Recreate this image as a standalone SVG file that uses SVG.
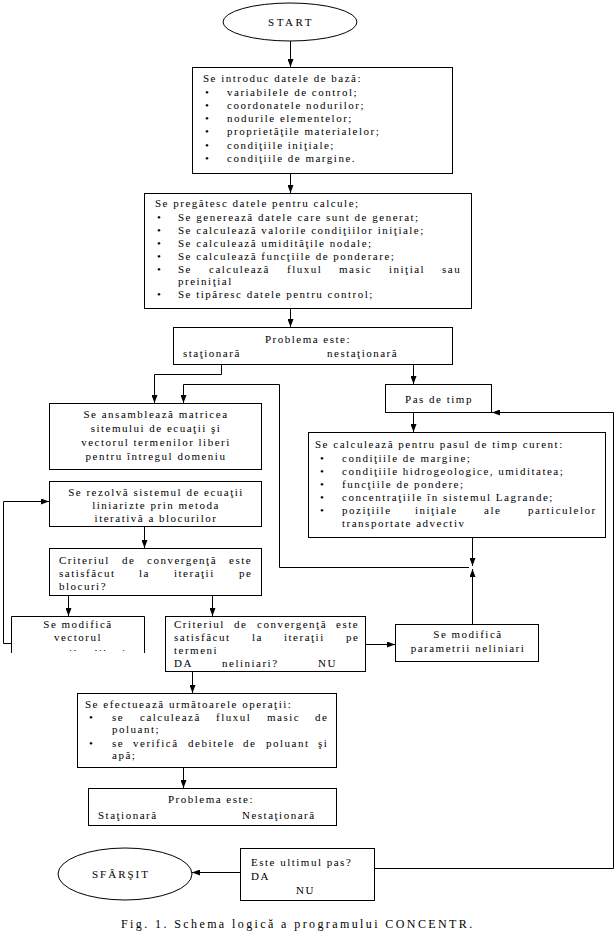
<svg xmlns="http://www.w3.org/2000/svg" width="616" height="945" viewBox="0 0 616 945">
<defs>
<style>
.b{fill:#fff;stroke:#000;stroke-width:1}
.t{font-family:"Liberation Serif","Times New Roman",serif;font-size:11px;letter-spacing:1.5px;fill:#000}
.c{text-anchor:middle}
.w{fill:none;stroke:#000;stroke-width:1}
</style>
<marker id="ah" viewBox="0 0 8 6" refX="8" refY="3" markerWidth="8" markerHeight="6" orient="auto" markerUnits="userSpaceOnUse"><path d="M0,0 L8,3 L0,6 z" fill="#000"/></marker>
<clipPath id="clipD"><rect x="12" y="617" width="132" height="34"/></clipPath>
</defs>
<rect width="616" height="945" fill="#fff"/>

<g id="start">
<ellipse class="b" cx="290" cy="22" rx="67" ry="19"/>
<text class="t c" x="291" y="26" style="letter-spacing:2.5px">START</text>
</g>

<g id="box1">
<rect class="b" x="192.5" y="67.5" width="260" height="106"/>
<text class="t" x="203" y="82">Se introduc datele de bază:</text>
<text class="t" x="205" y="96">•</text><text class="t" x="227" y="96">variabilele de control;</text>
<text class="t" x="205" y="109">•</text><text class="t" x="227" y="109">coordonatele nodurilor;</text>
<text class="t" x="205" y="122">•</text><text class="t" x="227" y="122">nodurile elementelor;</text>
<text class="t" x="205" y="135">•</text><text class="t" x="227" y="135">proprietăţile materialelor;</text>
<text class="t" x="205" y="149">•</text><text class="t" x="227" y="149">condiţiile iniţiale;</text>
<text class="t" x="205" y="162">•</text><text class="t" x="227" y="162">condiţiile de margine.</text>
</g>

<g id="box2">
<rect class="b" x="144.5" y="193.5" width="327" height="115"/>
<text class="t" x="155" y="207">Se pregătesc datele pentru calcule;</text>
<text class="t" x="157" y="221">•</text><text class="t" x="178" y="221">Se generează datele care sunt de generat;</text>
<text class="t" x="157" y="234">•</text><text class="t" x="178" y="234">Se calculează valorile condiţiilor iniţiale;</text>
<text class="t" x="157" y="247">•</text><text class="t" x="178" y="247">Se calculează umidităţile nodale;</text>
<text class="t" x="157" y="260">•</text><text class="t" x="178" y="260">Se calculează funcţiile de ponderare;</text>
<text class="t" x="157" y="273">•</text><text class="t" y="273"><tspan x="178">Se</tspan><tspan x="209">calculează</tspan><tspan x="287">fluxul</tspan><tspan x="339">masic</tspan><tspan x="389">iniţial</tspan><tspan x="442">sau</tspan></text>
<text class="t" x="178" y="285">preiniţial</text>
<text class="t" x="157" y="298">•</text><text class="t" x="178" y="298">Se tipăresc datele pentru control;</text>
</g>

<g id="box3">
<rect class="b" x="173.5" y="327.5" width="279" height="37"/>
<text class="t c" x="308" y="343">Problema este:</text>
<text class="t" x="183" y="357">staţionară</text>
<text class="t" x="327" y="357">nestaţionară</text>
</g>

<g id="ansamblare">
<rect class="b" x="49.5" y="403.5" width="212" height="66"/>
<text class="t c" x="156" y="418">Se ansamblează matricea</text>
<text class="t c" x="156" y="432">sitemului de ecuaţii şi</text>
<text class="t c" x="156" y="446">vectorul termenilor liberi</text>
<text class="t c" x="156" y="460">pentru întregul domeniu</text>
</g>

<g id="rezolvare">
<rect class="b" x="49.5" y="481.5" width="212" height="45"/>
<text class="t c" x="156" y="496">Se rezolvă sistemul de ecuaţii</text>
<text class="t c" x="156" y="509">liniarizte prin metoda</text>
<text class="t c" x="156" y="522">iterativă a blocurilor</text>
</g>

<g id="criteriu-blocuri">
<rect class="b" x="49.5" y="548.5" width="212" height="47"/>
<text class="t" y="564"><tspan x="59">Criteriul</tspan><tspan x="122">de</tspan><tspan x="147">convergenţă</tspan><tspan x="229">este</tspan></text>
<text class="t" y="577"><tspan x="59">satisfăcut</tspan><tspan x="139">la</tspan><tspan x="174">iteraţii</tspan><tspan x="239">pe</tspan></text>
<text class="t" x="59" y="590">blocuri?</text>
</g>

<g id="modifica-vector">
<rect x="12" y="617" width="132" height="36" fill="#fff"/>
<path class="w" d="M11.5,653 V616.5 H144.5 V653"/>
<g clip-path="url(#clipD)">
<text class="t c" x="78" y="628">Se modifică</text>
<text class="t c" x="78" y="641">vectorul</text>
<text class="t c" x="78" y="657">termenilor liberi</text>
</g>
</g>

<g id="criteriu-termeni">
<rect class="b" x="165.5" y="616.5" width="200" height="55"/>
<text class="t" y="628"><tspan x="174">Criteriul</tspan><tspan x="234">de</tspan><tspan x="257">convergenţă</tspan><tspan x="336">este</tspan></text>
<text class="t" y="641"><tspan x="174">satisfăcut</tspan><tspan x="252">la</tspan><tspan x="284">iteraţii</tspan><tspan x="346">pe</tspan></text>
<text class="t" x="174" y="654">termeni</text>
<text class="t" y="667"><tspan x="174">DA</tspan><tspan x="222">neliniari?</tspan><tspan x="318">NU</tspan></text>
</g>

<g id="modifica-parametri">
<rect class="b" x="395.5" y="624.5" width="143" height="37"/>
<text class="t c" x="468" y="638">Se modifică</text>
<text class="t c" x="468" y="652">parametrii neliniari</text>
</g>

<g id="pas-timp">
<rect class="b" x="385.5" y="384.5" width="106" height="28"/>
<text class="t c" x="439" y="403">Pas de timp</text>
</g>

<g id="calcul-pas">
<rect class="b" x="308.5" y="432.5" width="297" height="105"/>
<text class="t" x="315" y="448">Se calculează pentru pasul de timp curent:</text>
<text class="t" x="320" y="462">•</text><text class="t" x="342" y="462">condiţiile de margine;</text>
<text class="t" x="320" y="475">•</text><text class="t" x="342" y="475">condiţiile hidrogeologice, umiditatea;</text>
<text class="t" x="320" y="488">•</text><text class="t" x="342" y="488">funcţiile de pondere;</text>
<text class="t" x="320" y="501">•</text><text class="t" x="342" y="501">concentraţiile în sistemul Lagrande;</text>
<text class="t" x="320" y="514">•</text><text class="t" y="514"><tspan x="342">poziţiile</tspan><tspan x="415">iniţiale</tspan><tspan x="484">ale</tspan><tspan x="528">particulelor</tspan></text>
<text class="t" x="342" y="527">transportate advectiv</text>
</g>

<g id="operatii">
<rect class="b" x="77.5" y="693.5" width="259" height="74"/>
<text class="t" x="85" y="708">Se efectuează următoarele operaţii:</text>
<text class="t" x="89" y="721">•</text><text class="t" y="721"><tspan x="112">se</tspan><tspan x="140">calculează</tspan><tspan x="216">fluxul</tspan><tspan x="267">masic</tspan><tspan x="315">de</tspan></text>
<text class="t" x="112" y="733">poluant;</text>
<text class="t" x="89" y="747">•</text><text class="t" y="747"><tspan x="112">se</tspan><tspan x="133">verifică</tspan><tspan x="188">debitele</tspan><tspan x="243">de</tspan><tspan x="266">poluant</tspan><tspan x="318">şi</tspan></text>
<text class="t" x="112" y="759">apă;</text>
</g>

<g id="problema2">
<rect class="b" x="88.5" y="788.5" width="248" height="37"/>
<text class="t c" x="211" y="803">Problema este:</text>
<text class="t" x="98" y="819">Staţionară</text>
<text class="t" x="242" y="819">Nestaţionară</text>
</g>

<g id="ultimul-pas">
<rect class="b" x="240.5" y="848.5" width="134" height="52"/>
<text class="t" x="251" y="866">Este ultimul pas?</text>
<text class="t" x="251" y="880">DA</text>
<text class="t" x="296" y="894">NU</text>
</g>

<g id="sfarsit">
<ellipse class="b" cx="125" cy="874" rx="67" ry="26"/>
<text class="t c" x="121" y="878" style="letter-spacing:2px">SFÂRŞIT</text>
</g>

<g id="connectors" class="w">
<path d="M290.5,41 V67" marker-end="url(#ah)"/>
<path d="M290.5,174 V193" marker-end="url(#ah)"/>
<path d="M290.5,309 V327" marker-end="url(#ah)"/>
<path d="M221.5,365 V374.5 H154.5 V403" marker-end="url(#ah)"/>
<path d="M413.5,365 V384" marker-end="url(#ah)"/>
<path d="M279.5,567.5 V384.5 H183.5 V403" marker-end="url(#ah)"/>
<path d="M413.5,413 V432" marker-end="url(#ah)"/>
<path d="M472.5,538 V566" marker-end="url(#ah)"/>
<path d="M472.5,624 V569" marker-end="url(#ah)"/>
<path d="M279.5,567.5 H469"/>
<path d="M144.5,527 V548" marker-end="url(#ah)"/>
<path d="M68.5,596 V616" marker-end="url(#ah)"/>
<path d="M212.5,596 V616" marker-end="url(#ah)"/>
<path d="M11,643.5 H3.5 V501.5 H49" marker-end="url(#ah)"/>
<path d="M366,644.5 H395" marker-end="url(#ah)"/>
<path d="M192.5,672 V693" marker-end="url(#ah)"/>
<path d="M183.5,768 V788" marker-end="url(#ah)"/>
<path d="M240,872.5 H192" marker-end="url(#ah)"/>
<path d="M375,868.5 H613.5 V412.5 H492" marker-end="url(#ah)"/>
</g>

<text id="caption" class="t" x="121" y="928" style="font-size:12px;letter-spacing:2.4px">Fig. 1. Schema logică a programului CONCENTR.</text>
</svg>
